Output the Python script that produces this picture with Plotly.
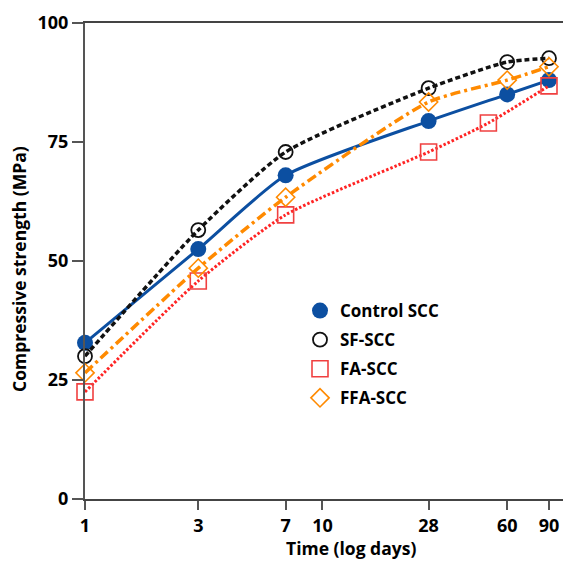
import plotly.graph_objects as go
import math

# ---- data ----
days_main = [1, 3, 7, 28, 60, 90]
days_fa = [1, 3, 7, 28, 50, 90]
control_scc = [32.8, 52.5, 68.0, 79.4, 85.0, 88.0]
sf_scc = [30.0, 56.5, 72.9, 86.3, 91.8, 92.6]
fa_scc = [22.5, 45.8, 59.7, 72.9, 79.0, 86.8]
ffa_scc = [26.5, 48.5, 63.4, 83.4, 88.0, 90.8]
x_ticks = [1, 3, 7, 10, 28, 60, 90]
y_ticks = [0, 25, 50, 75, 100]

BLUE = "#0c4fa1"
BLACK = "#111111"
RED = "#ff2424"
ORANGE = "#ff8a00"
FONT = "Open Sans"

series = [
    dict(name="Control SCC", x=days_main, y=control_scc, color=BLUE, dash="solid", width=3,
         marker=dict(symbol="circle", size=16, color=BLUE, line=dict(width=0))),
    dict(name="SF-SCC", x=days_main, y=sf_scc, color=BLACK, dash="5px,3px", width=3.5,
         marker=dict(symbol="circle-open", size=14, color=BLACK, line=dict(width=1.8, color=BLACK))),
    dict(name="FA-SCC", x=days_fa, y=fa_scc, color=RED, dash="2.5px,2px", width=3,
         marker=dict(symbol="square-open", size=16, color="#f04040", line=dict(width=1.6, color="#f04040"))),
    dict(name="FFA-SCC", x=days_main, y=ffa_scc, color=ORANGE, dash="10px,4px,3px,4px", width=3.5,
         marker=dict(symbol="diamond-open", size=14, color=ORANGE, line=dict(width=1.6, color=ORANGE))),
]

fig = go.Figure()
for s in series:
    fig.add_trace(go.Scatter(
        x=s["x"], y=s["y"], mode="lines+markers", showlegend=False,
        line=dict(color=s["color"], width=s["width"], dash=s["dash"], shape="spline", smoothing=0.6),
        marker=s["marker"], cliponaxis=False,
    ))
for i, s in enumerate(series):
    fig.add_trace(go.Scatter(
        x=[None], y=[None], mode="markers", name=s["name"], legendgroup=f"g{i}",
        marker=s["marker"], showlegend=True,
    ))

W = H = 563
ml, mr, mt, mb = 85, 0, 23, 64
x_max_log = math.log10(90) * (W - ml - mr) / (549 - ml)

fig.update_layout(
    width=W, height=H,
    margin=dict(l=ml, r=mr, t=mt, b=mb),
    paper_bgcolor="white", plot_bgcolor="white",
    font=dict(family=FONT, color="black"),
    showlegend=True,
    legend=dict(
        x=(300 - ml) / (W - ml - mr), y=(499 - 293) / (499 - 23), xanchor="left", yanchor="top",
        font=dict(family=FONT, size=17, color="black", weight="bold"),
        bgcolor="rgba(0,0,0,0)", tracegroupgap=4, itemsizing="trace",
    ),
    xaxis=dict(
        type="log", range=[0, x_max_log],
        tickvals=x_ticks, ticktext=[str(v) for v in x_ticks],
        ticks="outside", ticklen=9, tickwidth=2, tickcolor="#555",
        showline=True, linecolor="#444", linewidth=2, mirror=True,
        showgrid=False, zeroline=False,
        tickfont=dict(family=FONT, size=18, color="black", weight="bold"),
    ),
    yaxis=dict(
        range=[0, 100], tickvals=y_ticks,
        ticks="outside", ticklen=11, tickwidth=2, tickcolor="#555",
        showline=True, linecolor="#555", linewidth=2,
        showgrid=False, zeroline=False,
        tickfont=dict(family=FONT, size=18, color="black", weight="bold"),
    ),
    annotations=[
        dict(text="Time (log days)", xref="paper", yref="paper",
             x=(351 - ml) / (W - ml - mr), y=-(548 - 499) / (499 - 23),
             xanchor="center", yanchor="middle", showarrow=False,
             font=dict(family=FONT, size=17.5, color="black", weight="bold")),
        dict(text="Compressive strength (MPa)", xref="paper", yref="paper",
             x=-(ml - 19) / (W - ml - mr), y=(499 - 269) / (499 - 23),
             xanchor="center", yanchor="middle", showarrow=False, textangle=-90,
             font=dict(family=FONT, size=17.5, color="black", weight="bold")),
    ],
)

fig.write_html("out.html")
